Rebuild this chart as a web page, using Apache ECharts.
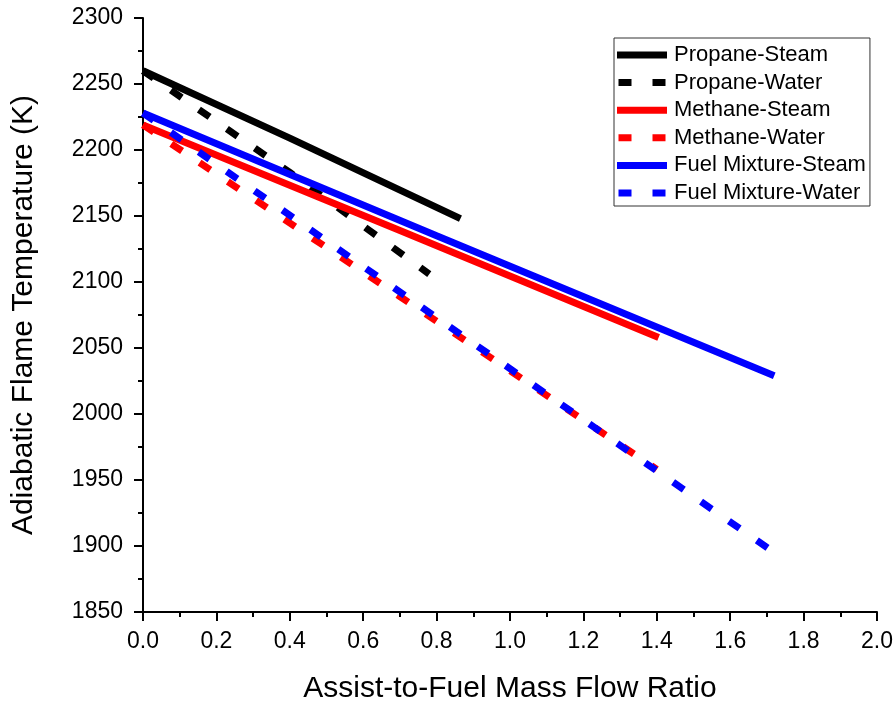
<!DOCTYPE html>
<html><head><meta charset="utf-8">
<script src="https://cdn.jsdelivr.net/npm/echarts@6/dist/echarts.min.js"></script>
<style>html,body{margin:0;padding:0;background:#fff}#c{width:896px;height:705px}</style>
</head><body><div id="c"></div>
<script>
const seriesNames = ["Propane-Steam","Propane-Water","Methane-Steam","Methane-Water","Fuel Mixture-Steam","Fuel Mixture-Water"];
const propaneSteamX = [0, 0.4, 0.865];
const propaneSteamY = [2260, 2209, 2148];
const propaneWaterX = [0, 0.4, 0.78];
const propaneWaterY = [2260, 2183, 2106];
const methaneSteamX = [0, 0.7, 1.405];
const methaneSteamY = [2219, 2139, 2058];
const methaneWaterX = [0, 0.7, 1.4];
const methaneWaterY = [2219, 2089, 1958];
const fuelSteamX = [0, 0.8, 1.72];
const fuelSteamY = [2228, 2135, 2029];
const fuelWaterX = [0, 0.8, 1.72];
const fuelWaterY = [2228, 2073, 1895];

const zip = (xs, ys) => xs.map((x, i) => [x, ys[i]]);
const FONT = "Liberation Sans, Arial, sans-serif";
const dashedNames = ["Propane-Water", "Methane-Water", "Fuel Mixture-Water"];
const SOLID_ICON = 'path://M0,0h50v7h-50z';
const DASH_ICON = 'path://M0,0h13v7h-13zM34,0h13v7h-13z';
function mk(name, xs, ys, color, dashed) {
  return {
    name, type: 'line', data: zip(xs, ys), symbol: 'none', showSymbol: false,
    color: color,
    lineStyle: { color: color, width: 7, type: dashed ? [13, 21] : 'solid', cap: 'butt' },
    emphasis: { disabled: true }, animation: false
  };
}
const chart = echarts.init(document.getElementById('c'), null, { renderer: 'canvas' });
chart.setOption({
  animation: false,
  grid: { left: 143, right: 19, top: 18, bottom: 93, outerBoundsMode: 'none', containLabel: false },
  legend: {
    data: seriesNames.map(n => ({ name: n, icon: dashedNames.includes(n) ? DASH_ICON : SOLID_ICON })),
    orient: 'vertical', left: 614, top: 38,
    itemWidth: 50, itemHeight: 7, itemGap: 5.6,
    padding: [6, 4, 2, 3],
    borderColor: '#333', borderWidth: 1,
    itemStyle: { borderWidth: 0 },
    textStyle: { fontFamily: FONT, fontSize: 22, lineHeight: 22, color: '#000', padding: [0, 0, 0, 2] }
  },
  xAxis: {
    type: 'value', min: 0, max: 2, interval: 0.2,
    name: 'Assist-to-Fuel Mass Flow Ratio', nameLocation: 'middle', nameGap: 62,
    nameTextStyle: { fontFamily: FONT, fontSize: 30, color: '#000' },
    axisLine: { lineStyle: { color: '#000', width: 2 } },
    axisTick: { length: 9, lineStyle: { width: 2, color: '#000' } },
    minorTick: { show: true, splitNumber: 2, length: 5, lineStyle: { width: 2, color: '#000' } },
    splitLine: { show: false },
    axisLabel: { fontFamily: FONT, fontSize: 23, color: '#000', margin: 18, formatter: v => v.toFixed(1) }
  },
  yAxis: {
    type: 'value', min: 1850, max: 2300, interval: 50,
    name: 'Adiabatic Flame Temperature (K)', nameLocation: 'middle', nameGap: 104,
    nameTextStyle: { fontFamily: FONT, fontSize: 30, color: '#000' },
    axisLine: { show: true, lineStyle: { color: '#000', width: 2 } },
    axisTick: { show: true, length: 9, lineStyle: { width: 2, color: '#000' } },
    minorTick: { show: true, splitNumber: 2, length: 5, lineStyle: { width: 2, color: '#000' } },
    splitLine: { show: false },
    axisLabel: { fontFamily: FONT, fontSize: 23, color: '#000', margin: 20, formatter: v => String(v) }
  },
  series: [
    mk(seriesNames[0], propaneSteamX, propaneSteamY, '#000000', false),
    mk(seriesNames[1], propaneWaterX, propaneWaterY, '#000000', true),
    mk(seriesNames[2], methaneSteamX, methaneSteamY, '#ff0000', false),
    mk(seriesNames[3], methaneWaterX, methaneWaterY, '#ff0000', true),
    mk(seriesNames[4], fuelSteamX, fuelSteamY, '#0000ff', false),
    mk(seriesNames[5], fuelWaterX, fuelWaterY, '#0000ff', true)
  ]
});
</script></body></html>
